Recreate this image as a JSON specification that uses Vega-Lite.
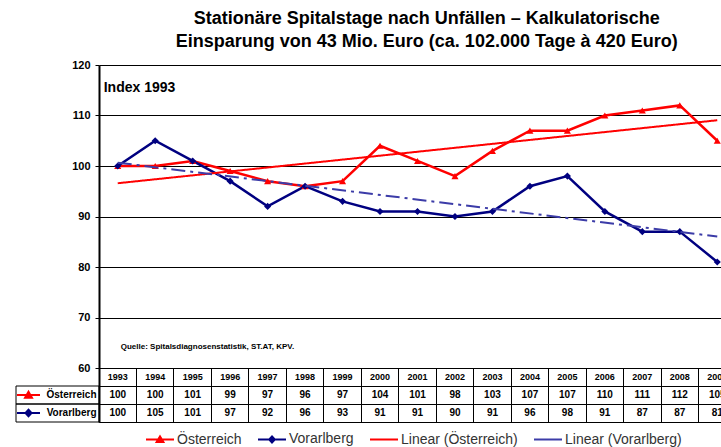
{
  "$schema": "https://vega.github.io/schema/vega-lite/v6.json",
  "padding": {"left": 13, "top": 10, "right": 0, "bottom": 0},
  "background": "white",
  "title": {
    "text": ["Stationäre Spitalstage nach Unfällen – Kalkulatorische", "Einsparung von 43 Mio. Euro (ca. 102.000 Tage à 420 Euro)"],
    "font": "Liberation Sans", "fontSize": 18, "fontWeight": "bold", "color": "black",
    "lineHeight": 23, "anchor": "middle", "offset": 8, "dx": 52
  },
  "config": {
    "view": {"stroke": null},
    "font": "Liberation Sans"
  },
  "datasets": {
    "d": [
      {"year": 1993, "series": "Österreich", "trend": "Linear (Österreich)", "value": 100},
      {"year": 1994, "series": "Österreich", "trend": "Linear (Österreich)", "value": 100},
      {"year": 1995, "series": "Österreich", "trend": "Linear (Österreich)", "value": 101},
      {"year": 1996, "series": "Österreich", "trend": "Linear (Österreich)", "value": 99},
      {"year": 1997, "series": "Österreich", "trend": "Linear (Österreich)", "value": 97},
      {"year": 1998, "series": "Österreich", "trend": "Linear (Österreich)", "value": 96},
      {"year": 1999, "series": "Österreich", "trend": "Linear (Österreich)", "value": 97},
      {"year": 2000, "series": "Österreich", "trend": "Linear (Österreich)", "value": 104},
      {"year": 2001, "series": "Österreich", "trend": "Linear (Österreich)", "value": 101},
      {"year": 2002, "series": "Österreich", "trend": "Linear (Österreich)", "value": 98},
      {"year": 2003, "series": "Österreich", "trend": "Linear (Österreich)", "value": 103},
      {"year": 2004, "series": "Österreich", "trend": "Linear (Österreich)", "value": 107},
      {"year": 2005, "series": "Österreich", "trend": "Linear (Österreich)", "value": 107},
      {"year": 2006, "series": "Österreich", "trend": "Linear (Österreich)", "value": 110},
      {"year": 2007, "series": "Österreich", "trend": "Linear (Österreich)", "value": 111},
      {"year": 2008, "series": "Österreich", "trend": "Linear (Österreich)", "value": 112},
      {"year": 2009, "series": "Österreich", "trend": "Linear (Österreich)", "value": 105},
      {"year": 1993, "series": "Vorarlberg", "trend": "Linear (Vorarlberg)", "value": 100},
      {"year": 1994, "series": "Vorarlberg", "trend": "Linear (Vorarlberg)", "value": 105},
      {"year": 1995, "series": "Vorarlberg", "trend": "Linear (Vorarlberg)", "value": 101},
      {"year": 1996, "series": "Vorarlberg", "trend": "Linear (Vorarlberg)", "value": 97},
      {"year": 1997, "series": "Vorarlberg", "trend": "Linear (Vorarlberg)", "value": 92},
      {"year": 1998, "series": "Vorarlberg", "trend": "Linear (Vorarlberg)", "value": 96},
      {"year": 1999, "series": "Vorarlberg", "trend": "Linear (Vorarlberg)", "value": 93},
      {"year": 2000, "series": "Vorarlberg", "trend": "Linear (Vorarlberg)", "value": 91},
      {"year": 2001, "series": "Vorarlberg", "trend": "Linear (Vorarlberg)", "value": 91},
      {"year": 2002, "series": "Vorarlberg", "trend": "Linear (Vorarlberg)", "value": 90},
      {"year": 2003, "series": "Vorarlberg", "trend": "Linear (Vorarlberg)", "value": 91},
      {"year": 2004, "series": "Vorarlberg", "trend": "Linear (Vorarlberg)", "value": 96},
      {"year": 2005, "series": "Vorarlberg", "trend": "Linear (Vorarlberg)", "value": 98},
      {"year": 2006, "series": "Vorarlberg", "trend": "Linear (Vorarlberg)", "value": 91},
      {"year": 2007, "series": "Vorarlberg", "trend": "Linear (Vorarlberg)", "value": 87},
      {"year": 2008, "series": "Vorarlberg", "trend": "Linear (Vorarlberg)", "value": 87},
      {"year": 2009, "series": "Vorarlberg", "trend": "Linear (Vorarlberg)", "value": 81}
    ]
  },
  "bounds": "flush",
  "spacing": 0,
  "columns": 2,
  "concat": [
    {
      "width": 83, "height": 303,
      "data": {"values": [{"s": ""}]},
      "mark": {"type": "text"},
      "encoding": {"text": {"field": "s"}}
    },
    {
      "width": 637, "height": 303,
      "data": {"name": "d"},
      "layer": [
        {
          "mark": {"type": "line", "strokeWidth": 2.5},
          "encoding": {
            "x": {"field": "year", "type": "ordinal", "scale": {"type": "point", "padding": 0.5}, "axis": null},
            "y": {
              "field": "value", "type": "quantitative",
              "scale": {"domain": [60, 120], "nice": false, "zero": false},
              "axis": {
                "values": [60, 70, 80, 90, 100, 110, 120], "title": null,
                "grid": true, "gridColor": "black", "gridWidth": 1, "gridOpacity": 1,
                "domainColor": "black", "domainWidth": 2, "tickColor": "black", "tickSize": 4,
                "labelFont": "Liberation Sans", "labelFontSize": 11, "labelFontWeight": "bold",
                "labelColor": "black", "labelPadding": 5
              }
            },
            "color": {
              "field": "series", "type": "nominal",
              "scale": {"domain": ["Österreich", "Vorarlberg", "Linear (Österreich)", "Linear (Vorarlberg)"], "range": ["#ff0000", "#000080", "#ff0000", "#3c3ca8"]},
              "legend": {
                "title": null, "orient": "none", "legendX": 129, "legendY": 359,
                "direction": "horizontal", "padding": 0,
                "symbolSize": 784, "symbolStrokeWidth": 2, "columnPadding": 12, "labelOffset": 2,
                "labelFont": "Liberation Sans", "labelFontSize": 14, "labelColor": "#333333",
                "encode": {
                  "symbols": {
                    "update": {
                      "shape": {"signal": "datum.value === 'Österreich' ? 'M-1,0L1,0M-0.24,0.18L0,-0.22L0.24,0.18Z' : datum.value === 'Vorarlberg' ? 'M-1,0L1,0M0,-0.22L0.2,0L0,0.22L-0.2,0Z' : 'M-1,0L1,0'"},
                      "stroke": {"signal": "datum.value === 'Vorarlberg' ? '#000080' : datum.value === 'Linear (Vorarlberg)' ? '#3c3ca8' : '#ff0000'"},
                      "fill": {"signal": "datum.value === 'Vorarlberg' ? '#000080' : datum.value === 'Linear (Vorarlberg)' ? '#3c3ca8' : '#ff0000'"},
                      "strokeWidth": {"value": 2},
                      "opacity": {"value": 1}
                    }
                  }
                }
              }
            }
          }
        },
        {
          "mark": {"type": "point", "filled": true, "opacity": 1, "size": 50},
          "encoding": {
            "x": {"field": "year", "type": "ordinal"},
            "y": {"field": "value", "type": "quantitative"},
            "color": {
              "field": "series", "type": "nominal",
              "scale": {"domain": ["Österreich", "Vorarlberg", "Linear (Österreich)", "Linear (Vorarlberg)"], "range": ["#ff0000", "#000080", "#ff0000", "#3c3ca8"]}
            },
            "shape": {
              "field": "series", "type": "nominal",
              "scale": {"domain": ["Österreich", "Vorarlberg"], "range": ["triangle-up", "diamond"]},
              "legend": null
            }
          }
        },
        {
          "transform": [{"regression": "value", "on": "year", "groupby": ["trend"]}],
          "mark": {"type": "line", "strokeWidth": 2},
          "encoding": {
            "x": {"field": "year", "type": "ordinal"},
            "y": {"field": "value", "type": "quantitative"},
            "color": {
              "field": "trend", "type": "nominal",
              "scale": {"domain": ["Österreich", "Vorarlberg", "Linear (Österreich)", "Linear (Vorarlberg)"], "range": ["#ff0000", "#000080", "#ff0000", "#3c3ca8"]}
            },
            "strokeDash": {
              "field": "trend", "type": "nominal",
              "scale": {"domain": ["Linear (Österreich)", "Linear (Vorarlberg)"], "range": [[1, 0], [14, 5, 3, 5]]},
              "legend": null
            }
          }
        },
        {
          "transform": [{"filter": "datum.year == 1993 && datum.series == 'Österreich'"}],
          "mark": {"type": "text", "align": "left", "baseline": "middle", "dx": -14, "fontSize": 14, "fontWeight": "bold", "fill": "black"},
          "encoding": {
            "x": {"field": "year", "type": "ordinal"},
            "y": {"datum": 115.4},
            "text": {"value": "Index 1993"}
          }
        },
        {
          "transform": [{"filter": "datum.year == 1993 && datum.series == 'Österreich'"}],
          "mark": {"type": "text", "align": "left", "baseline": "middle", "dx": 3, "fontSize": 8, "fontWeight": "bold", "fill": "black"},
          "encoding": {
            "x": {"field": "year", "type": "ordinal"},
            "y": {"datum": 64.2},
            "text": {"value": "Quelle: Spitalsdiagnosenstatistik, ST.AT, KPV."}
          }
        }
      ]
    },
    {
      "width": 83, "height": 54,
      "data": {"name": "d"},
      "transform": [{"filter": "datum.year == 1993"}],
      "encoding": {
        "y": {
          "field": "series", "type": "nominal",
          "scale": {"type": "band", "domain": ["header", "Österreich", "Vorarlberg"], "paddingInner": 0, "paddingOuter": 0},
          "axis": null
        }
      },
      "layer": [
        {"mark": {"type": "rect", "fill": "transparent", "stroke": "black", "strokeWidth": 1}},
        {
          "mark": {"type": "point", "filled": true, "size": 529, "strokeWidth": 2, "opacity": 1},
          "encoding": {
            "xOffset": {"value": -29},
            "shape": {"condition": {"test": "datum.series === 'Österreich'", "value": "M-1,0L1,0M-0.3,0.24L0,-0.28L0.3,0.24Z"}, "value": "M-1,0L1,0M0,-0.28L0.26,0L0,0.28L-0.26,0Z"},
            "fill": {"condition": {"test": "datum.series === 'Österreich'", "value": "#ff0000"}, "value": "#000080"},
            "stroke": {"condition": {"test": "datum.series === 'Österreich'", "value": "#ff0000"}, "value": "#000080"}
          }
        }
      ]
    },
    {
      "width": 637, "height": 54,
      "view": {"stroke": "black", "strokeWidth": 1},
      "data": {"name": "d"},
      "encoding": {
        "x": {
          "field": "year", "type": "ordinal",
          "scale": {"type": "band", "paddingInner": 0, "paddingOuter": 0},
          "axis": {"orient": "bottom", "grid": true, "bandPosition": 0, "gridColor": "black", "gridOpacity": 1, "gridWidth": 1, "labels": false, "ticks": false, "domain": false, "title": null}
        }
      },
      "layer": [
        {
          "mark": {"type": "text", "fontSize": 10, "fontWeight": "bold", "color": "black"},
          "encoding": {
            "y": {
              "field": "series", "type": "nominal",
              "scale": {"type": "band", "domain": ["header", "Österreich", "Vorarlberg"], "paddingInner": 0, "paddingOuter": 0},
              "axis": {
                "grid": true, "bandPosition": 0, "gridColor": "black", "gridOpacity": 1, "gridWidth": 1,
                "ticks": false, "domain": true, "domainColor": "black", "domainWidth": 2, "title": null,
                "labelExpr": "datum.value == 'header' ? '' : datum.value",
                "labelFont": "Liberation Sans", "labelFontSize": 10, "labelFontWeight": "bold", "labelColor": "black", "labelPadding": 3
              }
            },
            "text": {"field": "value", "type": "nominal"}
          }
        },
        {
          "transform": [{"filter": "datum.series == 'Österreich'"}],
          "mark": {"type": "text", "fontSize": 9, "fontWeight": "bold", "color": "black"},
          "encoding": {
            "y": {"datum": "header", "type": "nominal"},
            "text": {"field": "year", "type": "nominal"}
          }
        }
      ]
    }
  ]
}
